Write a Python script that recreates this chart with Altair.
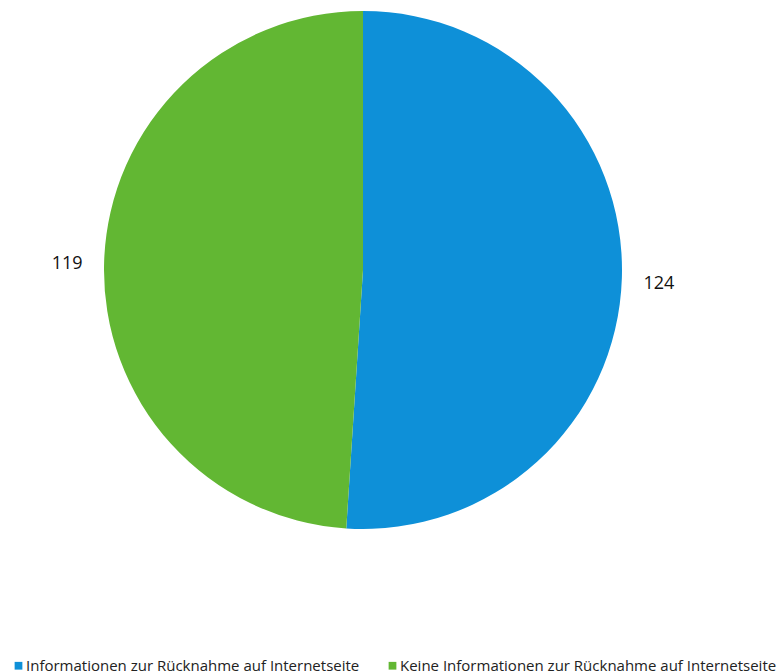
import altair as alt
import pandas as pd

# Rücknahme-Informationen auf der Internetseite
categories = [
    "Informationen zur Rücknahme auf Internetseite",
    "Keine Informationen zur Rücknahme auf Internetseite",
]
counts = [124, 119]
colors = ["#0E90D8", "#62B733"]

df = pd.DataFrame({"kategorie": categories, "anzahl": counts, "idx": list(range(len(counts)))})

cx, cy, r = 363, 270, 259

base = alt.Chart(df).encode(
    theta=alt.Theta("anzahl:Q", stack=True),
    order=alt.Order("idx:Q"),
)

pie = base.mark_arc(x=cx, y=cy, outerRadius=r).encode(
    color=alt.Color(
        "kategorie:N",
        scale=alt.Scale(domain=categories, range=colors),
        sort=categories,
        legend=alt.Legend(
            title=None,
            orient="none",
            legendX=11,
            legendY=658,
            direction="horizontal",
            symbolType="square",
            symbolSize=60,
            symbolStrokeWidth=0,
            labelFont="Open Sans",
            labelFontSize=15,
            labelColor="#222222",
            labelLimit=500,
            labelOffset=0,
            columnPadding=25,
        ),
    )
)

labels = base.mark_text(
    x=cx, y=cy, radius=296, dy=4, font="Open Sans", fontSize=18, color="#111111",
    align="center", baseline="middle",
).encode(text=alt.Text("anzahl:Q"))

chart = (
    alt.layer(pie, labels)
    .properties(width=778, height=672, padding=0, autosize=alt.AutoSizeParams(type="none"))
    .configure_view(stroke=None)
    .configure(background="white")
)

chart.save("out.html", embed_options={"renderer": "svg", "actions": False})
